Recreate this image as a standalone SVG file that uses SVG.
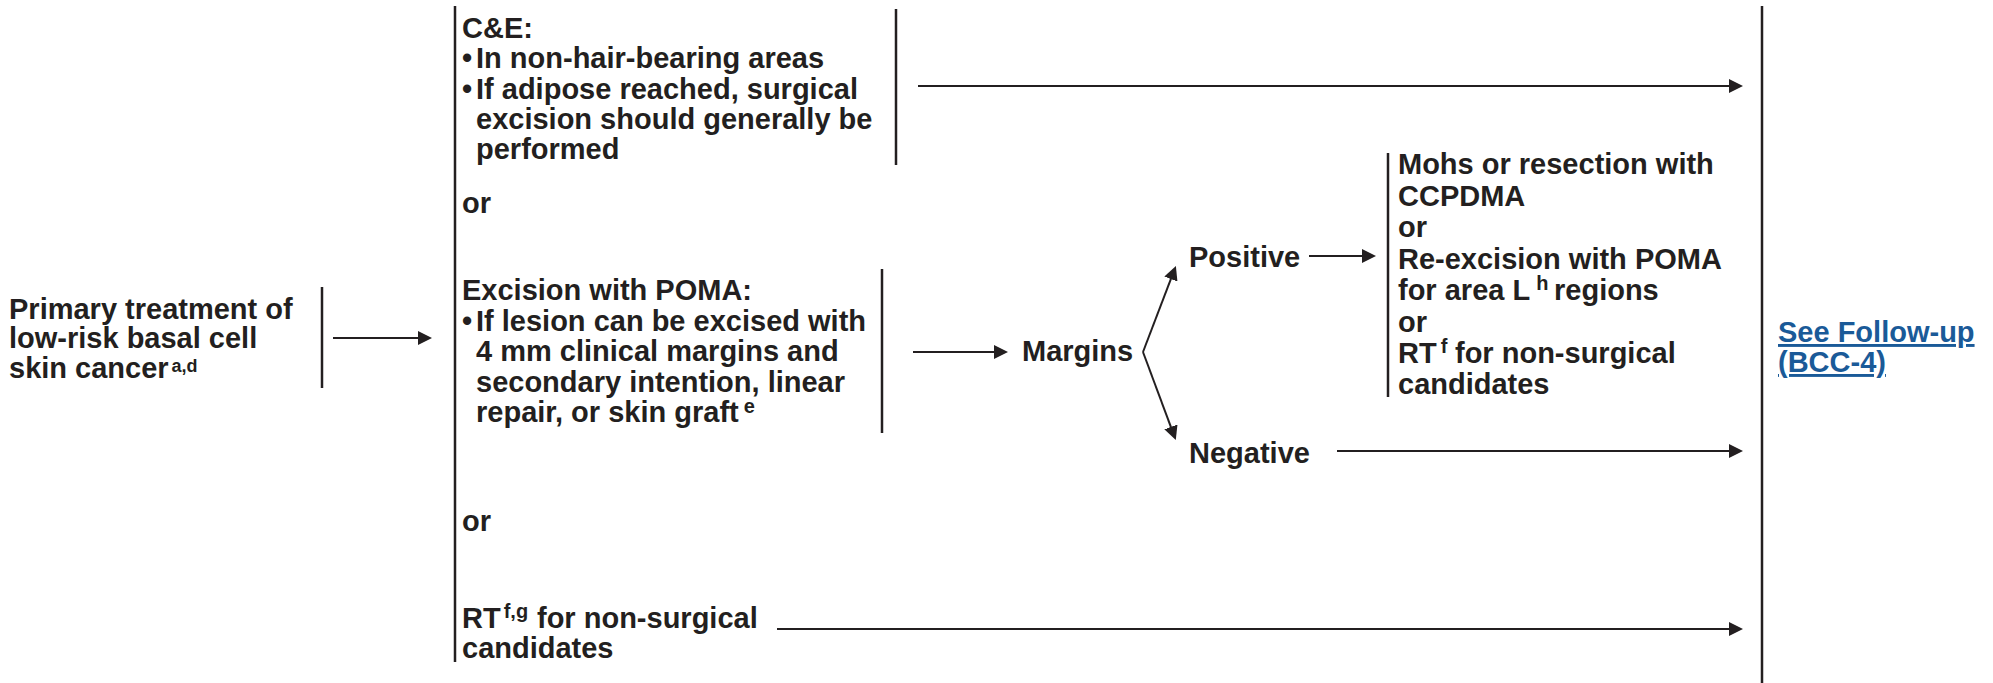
<svg xmlns="http://www.w3.org/2000/svg" width="1993" height="683" viewBox="0 0 1993 683">
<defs>
<marker id="ah" markerWidth="15" markerHeight="14" refX="2" refY="7" orient="auto" markerUnits="userSpaceOnUse">
<path d="M0,0 L14,7 L0,14 z" fill="#231f20"/>
</marker>
</defs>
<style>
text { font-family: "Liberation Sans", Arial, sans-serif; font-weight: bold; font-size: 29px; fill: #231f20; }
.sup { font-size: 20px; }
.sup2 { font-size: 18px; }
.bar { stroke: #231f20; stroke-width: 2.5; fill: none; }
.conn { stroke: #231f20; stroke-width: 2; fill: none; marker-end: url(#ah); }
.link { fill: #1a5a98; text-decoration: underline; }
</style>
<rect width="1993" height="683" fill="#ffffff"/>

<g id="node-primary">
<text x="9" y="319">Primary treatment of</text>
<text x="9" y="348">low-risk basal cell</text>
<text x="9" y="378">skin cancer<tspan class="sup2" dx="3" dy="-6">a,d</tspan></text>
<line class="bar" x1="322" y1="287" x2="322" y2="388"/>
</g>

<g id="node-options">
<line class="bar" x1="455" y1="6" x2="455" y2="662"/>
</g>

<g id="node-ce">
<text x="462" y="38">C&amp;E:</text>
<text y="68.3"><tspan x="462">•</tspan><tspan x="476">In non-hair-bearing areas</tspan></text>
<text y="98.5"><tspan x="462">•</tspan><tspan x="476">If adipose reached, surgical</tspan></text>
<text x="476" y="128.8">excision should generally be</text>
<text x="476" y="159">performed</text>
<line class="bar" x1="896" y1="9" x2="896" y2="165"/>
</g>

<g id="node-or1">
<text x="462" y="213">or</text>
</g>

<g id="node-excision">
<text x="462" y="300">Excision with POMA:</text>
<text y="330.5"><tspan x="462">•</tspan><tspan x="476">If lesion can be excised with</tspan></text>
<text x="476" y="361">4 mm clinical margins and</text>
<text x="476" y="391.5">secondary intention, linear</text>
<text x="476" y="422">repair, or skin graft<tspan class="sup" dx="5" dy="-9">e</tspan></text>
<line class="bar" x1="882" y1="269" x2="882" y2="433"/>
</g>

<g id="node-or2">
<text x="462" y="531">or</text>
</g>

<g id="node-rt">
<text x="462" y="628">RT<tspan class="sup" dx="3" dy="-10">f,g</tspan><tspan x="537" dy="10">for non-surgical</tspan></text>
<text x="462" y="658">candidates</text>
</g>

<g id="node-margins">
<text x="1022" y="361">Margins</text>
</g>

<g id="node-positive">
<text x="1189" y="267">Positive</text>
</g>

<g id="node-negative">
<text x="1189" y="463">Negative</text>
</g>

<g id="node-mohs">
<text x="1398" y="174">Mohs or resection with</text>
<text x="1398" y="205.5">CCPDMA</text>
<text x="1398" y="237">or</text>
<text x="1398" y="268.5">Re-excision with POMA</text>
<text x="1398" y="300">for area L<tspan class="sup" dx="6" dy="-10">h</tspan><tspan x="1554" dy="10">regions</tspan></text>
<text x="1398" y="331.5">or</text>
<text x="1398" y="363">RT<tspan class="sup" dx="4" dy="-10">f</tspan><tspan x="1455" dy="10">for non-surgical</tspan></text>
<text x="1398" y="394">candidates</text>
<line class="bar" x1="1388" y1="153" x2="1388" y2="397"/>
</g>

<g id="node-followup">
<line class="bar" x1="1762" y1="6" x2="1762" y2="683"/>
<text class="link" x="1778" y="342">See Follow-up</text>
<text class="link" x="1778" y="372">(BCC-4)</text>
</g>

<g id="connectors">
<line class="conn" x1="333" y1="338" x2="420" y2="338"/>
<line class="conn" x1="918" y1="86" x2="1731" y2="86"/>
<line class="conn" x1="913" y1="352" x2="996" y2="352"/>
<path class="conn" d="M1143,352 L1171.6,277.2"/>
<path class="conn" d="M1143,352 L1171.6,428.8"/>
<line class="conn" x1="1309" y1="256" x2="1364" y2="256"/>
<line class="conn" x1="1337" y1="451" x2="1731" y2="451"/>
<line class="conn" x1="777" y1="629" x2="1731" y2="629"/>
</g>
</svg>
